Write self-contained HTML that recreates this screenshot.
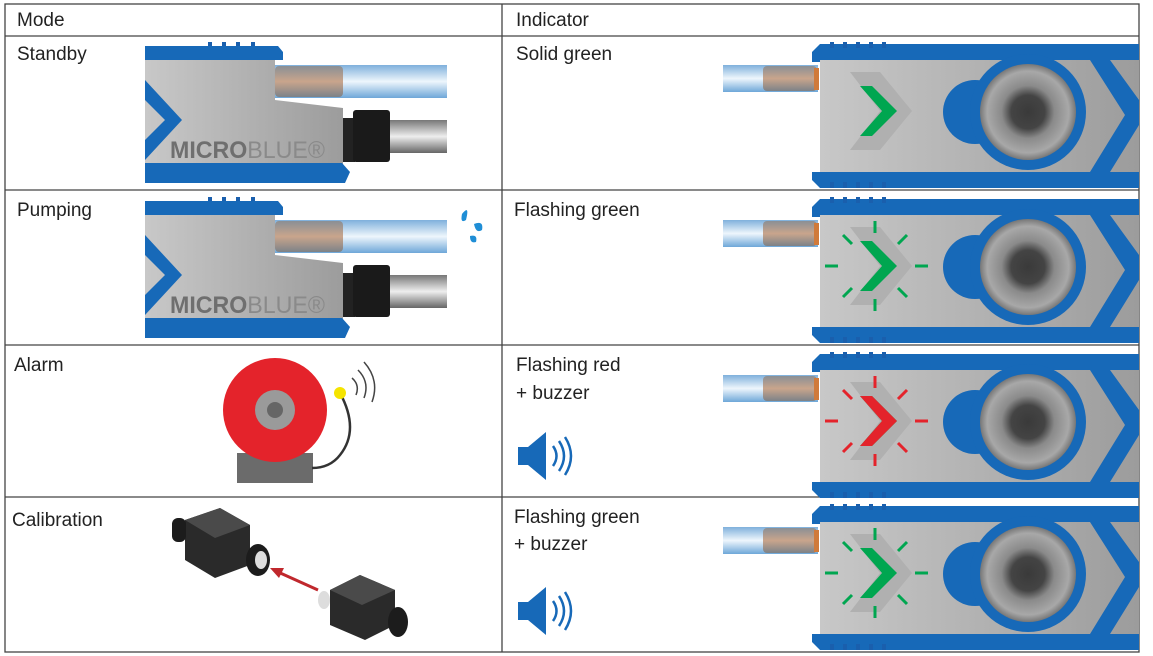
<!DOCTYPE html>
<html><head><meta charset="utf-8"><style>
body{margin:0;background:#fff;}
svg{display:block;font-family:"Liberation Sans",sans-serif;}
.t{font-size:19px;fill:#222;}
</style></head><body>
<svg width="1153" height="656" viewBox="0 0 1153 656">
<defs>
<linearGradient id="tube" x1="0" y1="0" x2="0" y2="1"><stop offset="0" stop-color="#7fb0dc"/><stop offset=".5" stop-color="#eef6fc"/><stop offset="1" stop-color="#6ea7d8"/></linearGradient>
<linearGradient id="cop" x1="0" y1="0" x2="0" y2="1"><stop offset="0" stop-color="#8a8f95"/><stop offset=".5" stop-color="#c9a58c"/><stop offset="1" stop-color="#7d8288"/></linearGradient>
<linearGradient id="pipe" x1="0" y1="0" x2="0" y2="1"><stop offset="0" stop-color="#777"/><stop offset=".5" stop-color="#eee"/><stop offset="1" stop-color="#666"/></linearGradient>
<linearGradient id="body" x1="0" y1="0" x2="1" y2="0"><stop offset="0" stop-color="#c8c8c8"/><stop offset="1" stop-color="#9c9c9c"/></linearGradient>
<radialGradient id="lens"><stop offset="0" stop-color="#3a3a3a"/><stop offset=".35" stop-color="#444"/><stop offset=".55" stop-color="#8a8a8a"/><stop offset=".85" stop-color="#a8a8a8"/><stop offset="1" stop-color="#777"/></radialGradient>
<g id="dev">
<rect x="275" y="65" width="172" height="33" fill="url(#tube)"/>
<rect x="275" y="66" width="68" height="31" rx="4" fill="url(#cop)"/>
<rect x="208" y="42" width="4" height="8" fill="#1a5fad"/><rect x="222" y="42" width="4" height="8" fill="#1a5fad"/><rect x="236" y="42" width="4" height="8" fill="#1a5fad"/><rect x="251" y="42" width="4" height="8" fill="#1a5fad"/>
<path d="M145 46 H278 L283 52 V60 H145Z" fill="#1769b8"/>
<path d="M145 60 H275 V100 L343 108 V165 H145Z" fill="url(#body)"/>
<path d="M145 80 L182 120 L145 160 V140 L165 120 L145 100Z" fill="#1769b8"/>
<path d="M145 163 H342 L350 172 L345 183 H145Z" fill="#1769b8"/>
<rect x="343" y="118" width="12" height="44" fill="#222"/><rect x="353" y="110" width="37" height="52" rx="3" fill="#1a1a1a"/>
<rect x="390" y="120" width="57" height="33" fill="url(#pipe)"/>
<text x="170" y="158" font-size="24" font-weight="bold" fill="#6f6f6f" textLength="155" lengthAdjust="spacingAndGlyphs">MICRO<tspan font-weight="normal" fill="#8a8a8a">BLUE®</tspan></text>
</g>
<g id="ind">
<rect x="723" y="65" width="95" height="27" fill="url(#tube)"/>
<rect x="763" y="66" width="54" height="25" rx="4" fill="url(#cop)"/>
<rect x="814" y="68" width="5" height="22" fill="#d07a3a"/>
<path d="M812 52 L820 44 H1139 V62 H812Z" fill="#1769b8"/>
<path d="M812 172 H1139 V188 H820 L812 180Z" fill="#1769b8"/>
<rect x="820" y="60" width="319" height="112" fill="url(#body)"/>
<path d="M850 72 H880 L912 111 L880 150 H850 L880 111Z" fill="#b0b0b0"/>
<path d="M860 86 H872 L897 111 L872 136 H860 L882 111Z" fill="#00a650"/>
<circle cx="975" cy="112" r="32" fill="#1769b8"/>
<circle cx="1028" cy="112" r="58" fill="#1769b8"/>
<circle cx="1028" cy="112" r="48" fill="url(#lens)"/>
<path d="M1090 60 H1110 L1139 100 V125 L1110 172 H1090 L1125 115Z" fill="#1769b8"/>
<g fill="#1a5fad"><rect x="830" y="42" width="4" height="6"/><rect x="843" y="42" width="4" height="6"/><rect x="856" y="42" width="4" height="6"/><rect x="869" y="42" width="4" height="6"/><rect x="882" y="42" width="4" height="6"/><rect x="830" y="182" width="4" height="6"/><rect x="843" y="182" width="4" height="6"/><rect x="856" y="182" width="4" height="6"/><rect x="869" y="182" width="4" height="6"/><rect x="882" y="182" width="4" height="6"/></g>
</g>
<g id="rays" stroke-width="3">
<line x1="875" y1="66" x2="875" y2="78"/><line x1="875" y1="144" x2="875" y2="156"/>
<line x1="825" y1="111" x2="838" y2="111"/><line x1="915" y1="111" x2="928" y2="111"/>
<line x1="843" y1="80" x2="852" y2="89"/><line x1="907" y1="80" x2="898" y2="89"/>
<line x1="843" y1="142" x2="852" y2="133"/><line x1="907" y1="142" x2="898" y2="133"/>
</g>
<g id="spk">
<path d="M0 15 H10 L28 0 V48 L10 33 H0Z" fill="#1769b8"/>
<path d="M35 14 Q42 24 35 34 M41 9 Q51 24 41 39 M47 5 Q59 24 47 43" fill="none" stroke="#1769b8" stroke-width="2.5"/>
</g>
</defs>
<g stroke="#444" stroke-width="1.3" fill="none">
<rect x="5" y="4" width="1134" height="648"/>
<line x1="5" y1="36" x2="1139" y2="36"/>
<line x1="5" y1="190" x2="1139" y2="190"/>
<line x1="5" y1="345" x2="1139" y2="345"/>
<line x1="5" y1="497" x2="1139" y2="497"/>
<line x1="502" y1="4" x2="502" y2="652"/>
</g>
<text class="t" x="17" y="26">Mode</text><text class="t" x="516" y="26">Indicator</text>
<text class="t" x="17" y="60">Standby</text><text class="t" x="516" y="60">Solid green</text>
<text class="t" x="17" y="216">Pumping</text><text class="t" x="514" y="216">Flashing green</text>
<text class="t" x="14" y="371">Alarm</text><text class="t" x="516" y="371">Flashing red</text><text class="t" x="516" y="399">+ buzzer</text>
<text class="t" x="12" y="526">Calibration</text><text class="t" x="514" y="523">Flashing green</text><text class="t" x="514" y="550">+ buzzer</text>
<use href="#dev"/>
<use href="#dev" transform="translate(0,155)"/>
<path d="M462 214 Q470 204 466 220 Q460 224 462 214Z M474 224 q10 -4 8 6 q-6 4 -8 -6Z M470 236 q8 -2 6 6 q-6 2 -6 -6Z" fill="#1f8ed6"/>
<use href="#ind"/>
<use href="#ind" transform="translate(0,155)"/>
<use href="#rays" transform="translate(0,155)" stroke="#00a650"/>
<use href="#ind" transform="translate(0,310)"/>
<path d="M860 396 H872 L897 421 L872 446 H860 L882 421Z" fill="#e4232b"/>
<use href="#rays" transform="translate(0,310)" stroke="#e4232b"/>
<use href="#ind" transform="translate(0,462)"/>
<use href="#rays" transform="translate(0,462)" stroke="#00a650"/>
<use href="#spk" transform="translate(518,432)"/>
<use href="#spk" transform="translate(518,587)"/>
<rect x="237" y="453" width="76" height="30" fill="#6b6b6b"/>
<path d="M340 393 Q360 430 340 455 Q330 468 312 468" fill="none" stroke="#333" stroke-width="2.5"/>
<circle cx="275" cy="410" r="52" fill="#e4232b"/>
<circle cx="275" cy="410" r="20" fill="#9a9a9a"/>
<circle cx="275" cy="410" r="8" fill="#666"/>
<circle cx="340" cy="393" r="6" fill="#f5e400"/>
<path d="M352 378 Q360 385 356 395 M358 370 Q370 382 364 398 M364 362 Q380 380 372 402" fill="none" stroke="#444" stroke-width="1.5"/>
<g>
<path d="M185 520 L220 508 L250 525 L250 565 L215 578 L185 560Z" fill="#2a2a2a"/>
<path d="M185 520 L220 508 L250 525 L215 538Z" fill="#4a4a4a"/>
<rect x="172" y="518" width="14" height="24" rx="6" fill="#1c1c1c"/>
<ellipse cx="258" cy="560" rx="12" ry="16" fill="#1c1c1c"/>
<ellipse cx="261" cy="560" rx="6" ry="9" fill="#ddd"/>
<line x1="318" y1="590" x2="278" y2="572" stroke="#c0282d" stroke-width="3"/>
<path d="M270 568 L284 568 L279 578Z" fill="#c0282d"/>
<ellipse cx="324" cy="600" rx="6" ry="9" fill="#ddd"/>
<path d="M330 590 L360 575 L395 590 L395 625 L365 640 L330 625Z" fill="#2a2a2a"/>
<path d="M330 590 L360 575 L395 590 L362 605Z" fill="#4a4a4a"/>
<ellipse cx="398" cy="622" rx="10" ry="15" fill="#1c1c1c"/>
</g>
</svg>
</body></html>
